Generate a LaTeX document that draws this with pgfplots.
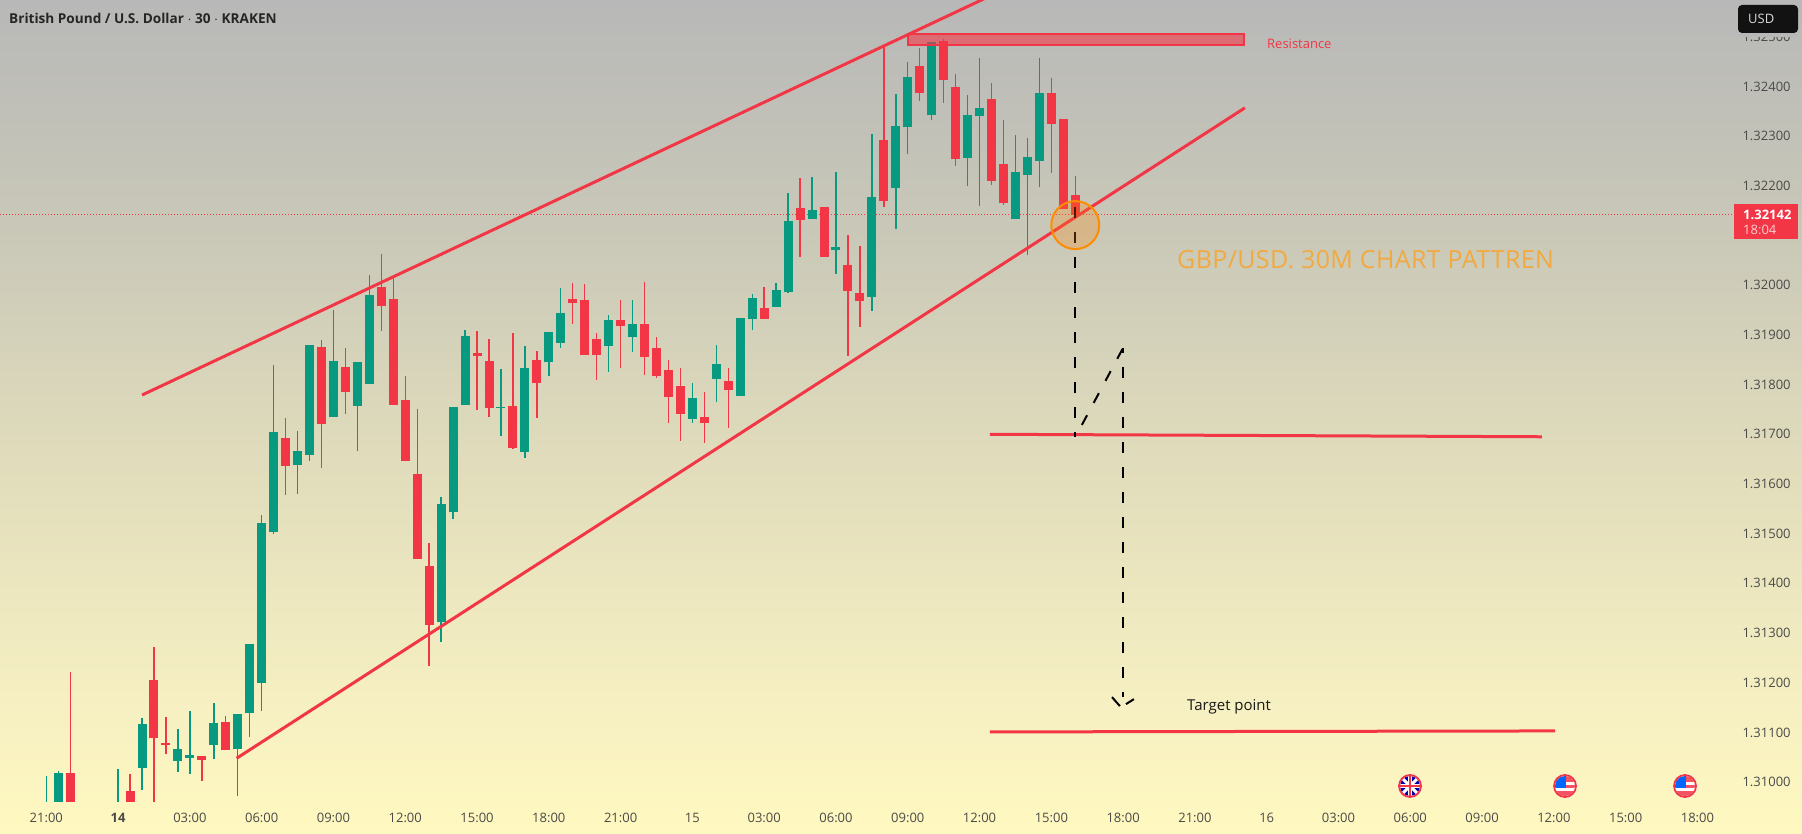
\documentclass[border=0pt]{standalone}
\usepackage{fontspec}
\usepackage{pgfplots}
\usepackage{pgfplotstable}
\pgfplotsset{compat=1.18}
\setmainfont{Open Sans}
\newfontfamily\annfont[LetterSpace=1.5]{Open Sans}
\definecolor{tvred}{HTML}{F23645}
\definecolor{tvgreen}{HTML}{089981}
\definecolor{tick}{HTML}{4A4A48}
\definecolor{bga}{HTML}{FFF8C0}
\definecolor{bgb}{HTML}{F7F1C2}
\definecolor{bgc}{HTML}{E2DEBC}
\definecolor{bgd}{HTML}{C9C8B8}
\definecolor{bge}{HTML}{B8B8B8}
\pgfdeclareverticalshading{tvbg}{100bp}{%
 color(0bp)=(bga);
 color(25bp)=(bga);
 color(31.8bp)=(bgb);
 color(46.2bp)=(bgc);
 color(61.2bp)=(bgd);
 color(75bp)=(bge);
 color(100bp)=(bge)}
\pgfplotstableread{
x o h l c
0 1.30920 1.31012 1.30900 1.30950
1 1.30950 1.31022 1.30930 1.31018
6 1.30930 1.31026 1.30920 1.30955
8 1.31028 1.31129 1.30984 1.31117
11 1.31042 1.31107 1.31020 1.31066
12 1.31048 1.31143 1.31016 1.31054
14 1.31074 1.31159 1.31046 1.31119
16 1.31066 1.31137 1.30972 1.31137
17 1.31139 1.31278 1.31090 1.31278
18 1.31199 1.31537 1.31143 1.31521
19 1.31503 1.31839 1.31499 1.31704
21 1.31638 1.31706 1.31580 1.31666
22 1.31658 1.31880 1.31646 1.31880
24 1.31735 1.31950 1.31735 1.31847
26 1.31757 1.31845 1.31666 1.31845
27 1.31801 1.32020 1.31801 1.31980
33 1.31322 1.31574 1.31282 1.31559
34 1.31543 1.31755 1.31529 1.31755
35 1.31759 1.31910 1.31759 1.31898
38 1.31753 1.31831 1.31696 1.31755
40 1.31664 1.31877 1.31652 1.31833
42 1.31845 1.31906 1.31817 1.31906
43 1.31884 1.31994 1.31873 1.31944
47 1.31877 1.31940 1.31825 1.31930
49 1.31896 1.31970 1.31865 1.31922
54 1.31731 1.31803 1.31722 1.31773
56 1.31811 1.31880 1.31765 1.31841
58 1.31777 1.31934 1.31777 1.31934
59 1.31932 1.31982 1.31910 1.31974
61 1.31956 1.32004 1.31956 1.31990
62 1.31986 1.32185 1.31984 1.32129
64 1.32133 1.32218 1.32133 1.32151
66 1.32071 1.32228 1.32022 1.32077
69 1.31976 1.32304 1.31948 1.32177
71 1.32196 1.32385 1.32113 1.32320
72 1.32318 1.32449 1.32264 1.32419
74 1.32342 1.32489 1.32332 1.32489
77 1.32256 1.32383 1.32200 1.32342
78 1.32340 1.32457 1.32159 1.32357
81 1.32133 1.32302 1.32133 1.32228
82 1.32222 1.32296 1.32061 1.32258
83 1.32250 1.32457 1.32198 1.32387
}\greencandles
\pgfplotstableread{
x o h l c
2 1.31018 1.31221 1.30930 1.30950
7 1.30982 1.31016 1.30940 1.30950
9 1.31205 1.31272 1.30950 1.31088
10 1.31078 1.31131 1.31056 1.31074
13 1.31052 1.31052 1.31002 1.31044
15 1.31121 1.31133 1.31064 1.31064
20 1.31692 1.31733 1.31578 1.31636
23 1.31875 1.31890 1.31632 1.31720
25 1.31835 1.31873 1.31741 1.31785
28 1.31996 1.32063 1.31908 1.31958
29 1.31972 1.32016 1.31759 1.31759
30 1.31769 1.31817 1.31646 1.31646
31 1.31620 1.31751 1.31449 1.31449
32 1.31435 1.31481 1.31233 1.31316
36 1.31863 1.31908 1.31749 1.31857
37 1.31847 1.31892 1.31735 1.31753
39 1.31757 1.31904 1.31670 1.31672
41 1.31849 1.31867 1.31733 1.31803
44 1.31972 1.32004 1.31922 1.31964
45 1.31970 1.32002 1.31859 1.31859
46 1.31892 1.31904 1.31809 1.31859
48 1.31930 1.31970 1.31833 1.31918
50 1.31922 1.32006 1.31819 1.31855
51 1.31873 1.31896 1.31813 1.31817
52 1.31829 1.31849 1.31722 1.31775
53 1.31797 1.31833 1.31686 1.31741
55 1.31735 1.31785 1.31682 1.31722
57 1.31807 1.31833 1.31712 1.31789
60 1.31954 1.31996 1.31932 1.31932
63 1.32155 1.32216 1.32057 1.32131
65 1.32157 1.32157 1.32057 1.32057
67 1.32041 1.32101 1.31857 1.31988
68 1.31984 1.32079 1.31916 1.31968
70 1.32292 1.32479 1.32157 1.32169
73 1.32441 1.32477 1.32371 1.32387
75 1.32491 1.32495 1.32367 1.32413
76 1.32399 1.32425 1.32240 1.32254
79 1.32375 1.32407 1.32202 1.32210
80 1.32244 1.32332 1.32161 1.32165
84 1.32387 1.32417 1.32226 1.32324
85 1.32334 1.32334 1.32153 1.32153
86 1.32181 1.32220 1.32142 1.32142
}\redcandles
\newcommand{\ukflag}[2]{%
 \begin{scope}[shift={(#1pt,#2pt)}]
  \fill[white] (0,0) circle (12pt);
  \begin{scope}
   \clip (0,0) circle (10pt);
   \fill[blue!65!black] (-10pt,-10pt) rectangle (10pt,10pt);
   \draw[white,line width=3pt] (-10pt,-10pt)--(10pt,10pt) (-10pt,10pt)--(10pt,-10pt);
   \draw[white,line width=4.5pt] (-10pt,0)--(10pt,0) (0,-10pt)--(0,10pt);
   \draw[tvred,line width=2.2pt] (-10pt,0)--(10pt,0) (0,-10pt)--(0,10pt);
  \end{scope}
  \draw[tvred,line width=1.8pt] (0,0) circle (11pt);
 \end{scope}}
\newcommand{\usflag}[2]{%
 \begin{scope}[shift={(#1pt,#2pt)}]
  \fill[white] (0,0) circle (12pt);
  \begin{scope}
   \clip (0,0) circle (10pt);
   \fill[tvred!85!white] (-10pt,-10pt) rectangle (10pt,-4.5pt);
   \fill[tvred!85!white] (0pt,-1.5pt) rectangle (10pt,1.5pt);
   \fill[tvred!85!white] (0pt,4.5pt) rectangle (10pt,10pt);
   \fill[blue!60!cyan] (-10pt,-1.5pt) rectangle (0.5pt,10pt);
  \end{scope}
  \draw[tvred,line width=1.8pt] (0,0) circle (11pt);
 \end{scope}}
\begin{document}
\begin{tikzpicture}[x=1pt,y=1pt]
\useasboundingbox (0,0) rectangle (1802,833);
\fill[shading=tvbg] (0,0) rectangle (1802,833);
\begin{axis}[
  at={(0pt,32pt)}, anchor=south west,
  scale only axis, width=1735pt, height=801pt,
  xmin=-3.87, xmax=141.14, ymin=1.30962, ymax=1.32574,
  axis line style={draw=none},
  major tick length=0pt,
  tick style={draw=none},
  yticklabel pos=right,
  ytick={1.31,1.311,1.312,1.313,1.314,1.315,1.316,1.317,1.318,1.319,1.32,1.322,1.323,1.324,1.325},
  scaled y ticks=false,
  yticklabel style={/pgf/number format/.cd,fixed,fixed zerofill,precision=5,1000 sep={},assume math mode=true,/tikz/.cd,
    font=\fontsize{13}{15}\selectfont, text=tick, xshift=4pt},
  xtick={0,6,...,138},
  xticklabels={21:00,{\bfseries 14},03:00,06:00,09:00,12:00,15:00,18:00,21:00,15,03:00,06:00,09:00,12:00,15:00,18:00,21:00,16,03:00,06:00,09:00,12:00,15:00,18:00},
  xticklabel style={font=\fontsize{13}{15}\selectfont, text=tick, yshift=-9pt},
]
% current price line
\addplot[forget plot, tvred, line width=0.9pt, dash pattern=on 1pt off 2pt] coordinates {(-3.87,1.32143)(141.14,1.32143)};
% wicks
\addplot[forget plot, draw=none, error bars/.cd, y dir=both, y explicit, error mark=none,
  error bar style={line width=1.4pt, draw=tvgreen}]
  table[x=x, y=o, y error plus expr=\thisrow{h}-\thisrow{o}, y error minus expr=\thisrow{o}-\thisrow{l}] {\greencandles};
\addplot[forget plot, draw=none, error bars/.cd, y dir=both, y explicit, error mark=none,
  error bar style={line width=1.4pt, draw=tvred}]
  table[x=x, y=o, y error plus expr=\thisrow{h}-\thisrow{o}, y error minus expr=\thisrow{o}-\thisrow{l}] {\redcandles};
% bodies
\addplot[forget plot, draw=none, error bars/.cd, y dir=plus, y explicit, error mark=none,
  error bar style={line width=9pt, draw=tvgreen}]
  table[x=x, y=o, y error plus expr=\thisrow{c}-\thisrow{o}] {\greencandles};
\addplot[forget plot, draw=none, error bars/.cd, y dir=plus, y explicit, error mark=none,
  error bar style={line width=9pt, draw=tvred}]
  table[x=x, y=c, y error plus expr=\thisrow{o}-\thisrow{c}] {\redcandles};
% channel
\addplot[forget plot, tvred, line width=3pt] coordinates {(8.0,1.31779)(78.87,1.32582)};
\addplot[forget plot, tvred, line width=3pt] coordinates {(15.91,1.31048)(100.18,1.32357)};
% resistance zone
\addplot[forget plot, draw=tvred, line width=2.4pt, fill=tvred, fill opacity=0.6] coordinates {(72,1.32506)(100.1,1.32506)(100.1,1.32483)(72,1.32483)} -- cycle;
% levels
\addplot[forget plot, tvred, line width=3pt] coordinates {(78.87,1.31700)(125.0,1.31695)};
\addplot[forget plot, tvred, line width=3pt] coordinates {(78.87,1.31101)(126.1,1.31103)};
% circle
\addplot[forget plot, only marks, mark=*, mark size=24pt, mark options={draw=orange!90!yellow, line width=2pt, fill=orange, fill opacity=0.25}] coordinates {(86,1.32121)};
% projections
\addplot[forget plot, black, line width=2pt, dash pattern=on 11pt off 14pt] coordinates {(86,1.32157)(86,1.31694)};
\addplot[forget plot, black, line width=2pt, dash pattern=on 11pt off 14pt, dash phase=11pt] coordinates {(86,1.31694)(90,1.31874)};
\addplot[forget plot, black, line width=2pt, dash pattern=on 11pt off 14pt, dash phase=6pt] coordinates {(90,1.31874)(90,1.31171)};
\addplot[forget plot, black, line width=2pt] coordinates {(89.07,1.31171)(89.73,1.31153)};
\addplot[forget plot, black, line width=2pt] coordinates {(90.24,1.31157)(90.9,1.31167)};
\end{axis}
% scale widgets
\fill[tvred] (1734,594) rectangle (1798,629);
\node[anchor=west,inner sep=0pt,text=white,font=\fontsize{13}{15}\selectfont\bfseries] at (1743,618.5) {1.32142};
\node[anchor=west,inner sep=0pt,text=white!75!tvred,font=\fontsize{13}{15}\selectfont] at (1743,603.5) {18:04};
\fill[bge] (1738,796) rectangle (1798,802);
\fill[black!93, rounded corners=4pt] (1738,800) rectangle (1798,828);
\node[anchor=west,inner sep=0pt,text=white!85!black,font=\fontsize{13}{15}\selectfont] at (1748,814) {USD};
% texts
\node[anchor=west,inner sep=0pt,text=black!85,font=\fontsize{13.6}{15}\selectfont\bfseries] at (9,815) {British Pound / U.S. Dollar $\cdot$ 30 $\cdot$ KRAKEN};
\node[anchor=west,inner sep=0pt,text=tvred,font=\fontsize{13}{15}\selectfont] at (1267,789.5) {Resistance};
\node[anchor=west,inner sep=0pt,text={rgb,255:red,242;green,169;blue,64},font=\annfont\fontsize{25}{28}\selectfont] at (1177,573) {GBP/USD. 30M CHART PATTREN};
\node[anchor=west,inner sep=0pt,text=black!90,font=\fontsize{15}{17}\selectfont] at (1187,126) {Target point};
% flags
\ukflag{1410}{47}
\usflag{1565}{47}
\usflag{1685}{47}
\end{tikzpicture}
\end{document}
